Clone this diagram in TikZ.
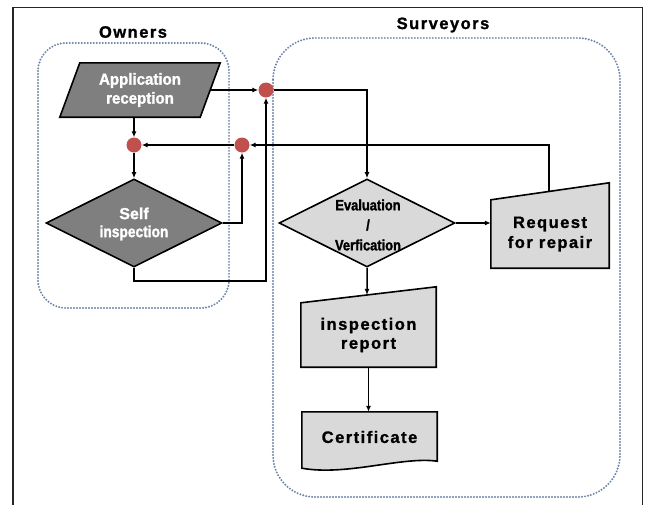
\documentclass[tikz,border=0pt]{standalone}
\usepackage{fontspec}
\setmainfont{Liberation Sans}[BoldFeatures={FakeBold=1.2}]
\newfontfamily\spaced{Liberation Sans}[LetterSpace=9, BoldFeatures={FakeBold=1.2}]
\newfontfamily\narrowish{Liberation Sans}[FakeStretch=0.94, BoldFeatures={FakeBold=1.5}]
\newfontfamily\narrow{Liberation Sans}[FakeStretch=0.86, BoldFeatures={FakeBold=1.5}]
\usetikzlibrary{shapes.geometric,arrows.meta,calc}

\definecolor{darkfill}{RGB}{127,127,127}
\definecolor{lightfill}{RGB}{217,217,217}
\definecolor{dotred}{RGB}{192,80,77}
\definecolor{lanecol}{RGB}{110,132,165}

\pgfdeclarelayer{lanes}
\pgfdeclarelayer{boxes}
\pgfsetlayers{lanes,boxes,main}

\tikzset{
  outline/.style={draw=black, line width=1.6pt, line join=miter},
  darkshape/.style={outline, fill=darkfill},
  lightshape/.style={outline, fill=lightfill},
  boxtext/.style={inner sep=0pt, align=center},
  whitetext/.style={boxtext, text=white},
  junction/.style={circle, fill=dotred, minimum size=15pt, inner sep=0pt},
  conn/.style={line width=1.5pt, -{Latex[length=6pt,width=5pt]}},
  lane/.style={draw=lanecol, line width=2.2pt, dash pattern=on 0pt off 3pt, line cap=round},
  lanetitle/.style={inner sep=0pt, font=\spaced\bfseries\fontsize{16.5}{19}\selectfont},
  choice/.style={diamond, aspect=2, minimum width=176pt, minimum height=88pt, inner sep=0pt}
}

\begin{document}
\begin{tikzpicture}[x=1pt,y=-1pt]
\useasboundingbox (0,0) rectangle (646,504);

% outer frame (open at the bottom)
\draw[line width=1.6pt, black!85] (13,510) -- (13,7.5) -- (642.5,7.5) -- (642.5,510);

% swimlanes
\begin{pgfonlayer}{lanes}
  \draw[lane, rounded corners=28pt] (38,43) rectangle (229,308);
  \draw[lane, rounded corners=42pt] (273,38) rectangle (620,497);
\end{pgfonlayer}
\node[lanetitle] (ownerstitle) at (133,32) {Owners};
\node[lanetitle] (surveyorstitle) at (443,25) {Surveyors};

% Owners lane
\node[whitetext, minimum width=140pt, minimum height=54pt,
      font=\narrowish\bfseries\fontsize{16}{19}\selectfont] (app) at (140,90) {Application\\reception};
\begin{pgfonlayer}{boxes}
  \draw[darkshape] ([xshift=10pt]app.north west) -- ([xshift=10pt]app.north east)
    -- ([xshift=-10pt]app.south east) -- ([xshift=-10pt]app.south west) -- cycle;
\end{pgfonlayer}

\node[choice, darkshape] (self) at (134,223) {};
\node[whitetext, font=\bfseries\fontsize{16}{18}\selectfont] (selftext) at (134,224) {Self\\{\narrow inspection}};

\node[junction] (d1) at (134,145) {};
\node[junction] (d2) at (242,145) {};
\node[junction] (d3) at (266,90) {};

% Surveyors lane
\node[choice, lightshape] (eval) at (367,223) {};
\node[boxtext, font=\narrow\bfseries\fontsize{15}{20}\selectfont] (evaltext) at (368,225) {Evaluation\\/\\Verfication};

\node[boxtext, minimum width=118pt, minimum height=68pt,
      font=\spaced\bfseries\fontsize{16.5}{20}\selectfont] (req) at (550,234) {Request\\for repair};
\coordinate (reqTR) at ([yshift=17pt]req.north east);
\coordinate (reqtop) at ($(req.north west)!0.49!(reqTR)$);

\node[boxtext, minimum width=135pt, minimum height=64pt,
      font=\spaced\bfseries\fontsize{16.5}{19}\selectfont] (rep) at (368.5,335) {inspection\\report};
\coordinate (repTR) at ([yshift=16pt]rep.north east);
\coordinate (reptop) at ($(rep.north west)!0.4889!(repTR)$);

\node[boxtext, minimum width=135pt, minimum height=50pt,
      font=\spaced\bfseries\fontsize{16.5}{19}\selectfont] (cert) at (369.5,437) {Certificate};

\begin{pgfonlayer}{boxes}
  \draw[lightshape] (req.south west) -- (req.south east) -- (reqTR) -- (req.north west) -- cycle;
  \draw[lightshape] (rep.south west) -- (rep.south east) -- (repTR) -- (rep.north west) -- cycle;
  \draw[lightshape] (cert.north west) -- (cert.north east) -- ($(cert.south east)+(0,-1)$)
    .. controls ($(cert.south east)+(-35,-6)$) and ($(cert.south west)+(45,14)$)
    .. ($(cert.south west)+(0,6)$) -- cycle;
\end{pgfonlayer}

% connectors
\draw[conn] (app.south -| d1) -- (d1);
\draw[conn] (d1) -- (self.north);
\draw[conn] (self.east) -| (d2);
\draw[conn] (d2) -- (d1);
\draw[conn] (self.south) -- ++(0,13) -| (d3);
\draw[conn] (app.east) -- (d3);
\draw[conn] (d3) -| (eval.north);
\draw[conn] (eval.east) -- (eval.east -| req.west);
\draw[conn] (reqtop) |- (d2);
\draw[conn] (eval.south) -- (reptop);
\draw[conn] (rep.south) -- (rep.south |- cert.north);
\end{tikzpicture}
\end{document}
